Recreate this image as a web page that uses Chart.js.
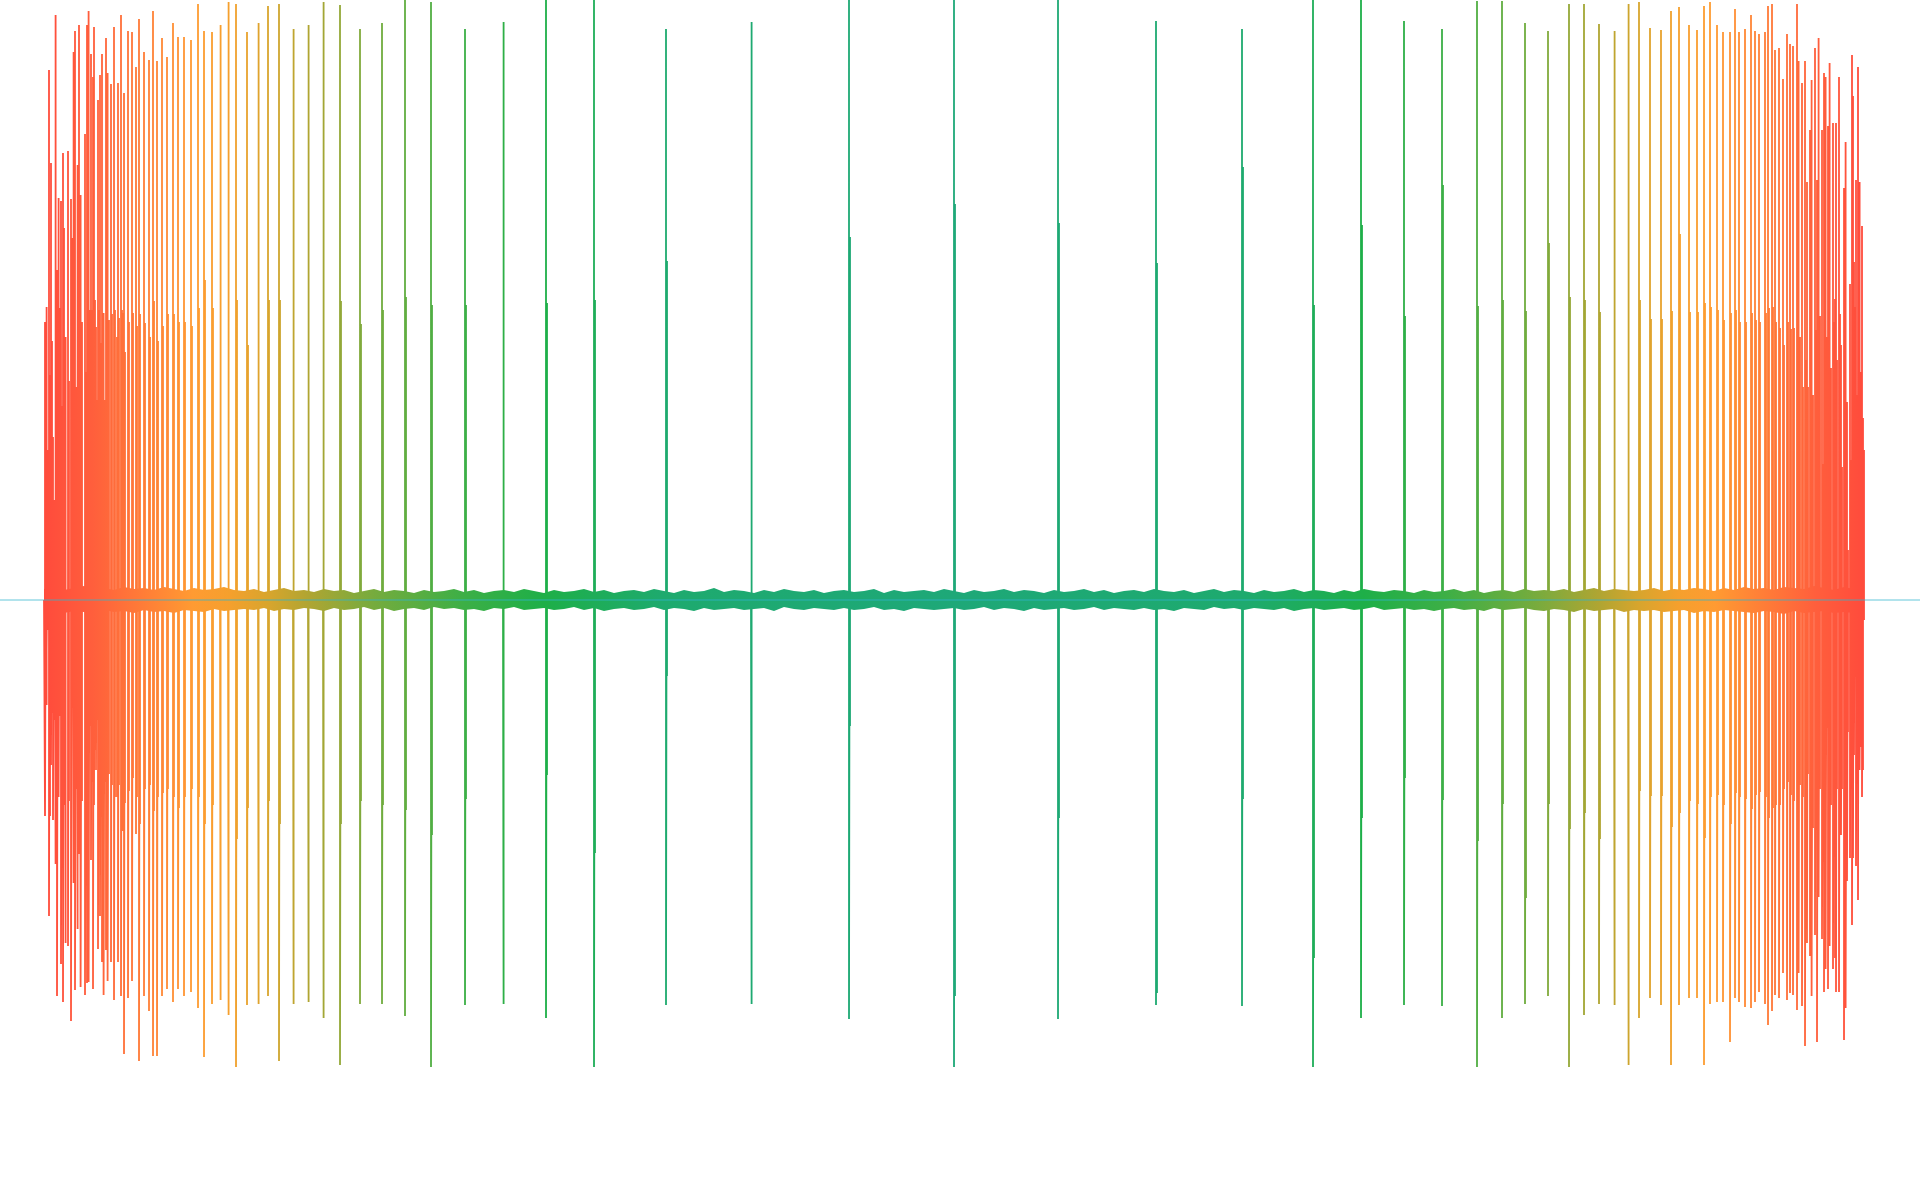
<!DOCTYPE html>
<html><head><meta charset="utf-8">
<script src="https://cdn.jsdelivr.net/npm/chart.js@4/dist/chart.umd.min.js"></script>
<style>html,body{margin:0;padding:0;background:#fff;overflow:hidden}#wrap{width:1920px;height:1200px;position:relative}</style>
</head><body><div id="wrap"><canvas id="c"></canvas></div>
<script>
// time of each pulse (s)
const spikeTimes = [
0.01,0.03,0.05,0.07,0.09,0.11,0.13,0.15,0.17,0.19,0.21,0.24,0.27,0.29,0.31,0.33,0.35,0.37,0.41,0.43,
0.45,0.47,0.49,0.50,0.52,0.54,0.56,0.58,0.60,0.62,0.64,0.67,0.70,0.73,0.74,0.77,0.79,0.80,0.84,0.88,
0.92,0.95,1.00,1.05,1.09,1.13,1.18,1.23,1.29,1.34,1.40,1.47,1.54,1.60,1.68,1.76,1.84,1.92,2.03,2.14,
2.24,2.35,2.49,2.64,2.79,2.96,3.16,3.38,
3.61,3.87,4.21,4.59,5.02,5.50,6.22,7.07,8.05,9.10,10.14,11.12,11.98,12.69,13.17,13.60,13.98,14.33,14.58,14.81,
15.04,15.25,15.40,15.55,15.70,15.84,15.95,16.06,16.17,16.27,16.35,16.45,16.53,
16.60,16.66,16.73,16.79,16.86,16.91,16.95,17.01,17.07,17.11,17.15,17.21,17.24,17.28,17.31,17.35,17.39,17.43,17.46,17.49,
17.53,17.55,17.58,17.61,17.63,17.66,17.68,17.71,17.73,17.75,17.78,17.80,17.82,17.84,17.86,17.89,17.91,17.92,17.95,17.97,
18.00,18.02,18.03,18.06,18.08,18.09,18.10,18.12,18.14,18.16,18.18,18.19];
// outer positive peak of each pulse
const spikePeaks = [
278,293,530,437,163,585,330,402,399,447,263,449,401,548,569,435,575,405,466,575,
589,546,523,573,273,500,525,546,287,562,527,516,573,263,517,585,287,507,569,568,
533,581,548,540,589,539,562,543,577,563,563,560,596,569,568,575,598,596,568,577,
594,596,571,575,598,595,571,577,
600,598,571,578,600,600,571,578,600,600,600,579,571,600,600,579,571,599,599,577,
569,596,596,576,569,596,598,572,570,589,593,575,570,
594,598,575,568,568,591,568,571,585,569,566,568,594,596,550,552,521,566,556,554,
596,539,517,539,418,470,520,552,420,562,470,527,523,474,537,477,301,477,523,255,
412,458,110,316,545,504,338,420,533,248,374,182];
// outer negative trough of each pulse
const spikeTroughs = [
-216,-51,-316,-165,-220,-264,-396,-197,-364,-402,-343,-346,-421,-283,-390,-329,-254,-387,-395,-383,
-382,-260,-389,-205,-170,-349,-316,-362,-395,-350,-381,-362,-400,-197,-362,-396,-231,-454,-398,-381,
-234,-461,-396,-411,-456,-456,-396,-389,-402,-389,-396,-392,-408,-457,-404,-400,-415,-467,-405,-404,
-396,-461,-404,-402,-418,-465,-404,-404,
-416,-467,-405,-404,-418,-467,-405,-404,-419,-467,-419,-405,-406,-467,-418,-405,-406,-467,-418,-404,
-396,-467,-415,-404,-405,-465,-418,-398,-405,-465,-405,-398,-398,
-465,-404,-402,-402,-442,-398,-402,-407,-408,-402,-392,-404,-425,-411,-395,-398,-373,-400,-393,-395,
-410,-373,-406,-446,-343,-356,-396,-335,-442,-297,-339,-392,-369,-389,-346,-369,-358,-392,-392,-235,
-440,-408,-281,-258,-325,-258,-155,-266,-300,-170,-197,-9];
// secondary (inner) peak of each pulse
const innerPeaks = [
133,150,225,259,100,85,200,292,194,372,180,219,362,175,213,217,280,278,228,290,
290,290,274,300,200,290,257,259,200,286,280,286,290,200,282,290,200,248,278,287,
274,286,277,263,299,259,274,286,286,278,278,274,292,320,292,284,293,300,255,290,
300,300,280,287,301,299,276,290,
303,295,295,360,297,300,339,294,363,396,377,337,433,295,375,284,415,294,300,289,
357,303,300,288,277,392,300,281,281,289,366,288,288,
297,293,290,280,287,290,278,278,287,280,278,287,292,293,278,272,255,278,271,272,
293,263,213,240,213,240,205,270,213,284,136,64,263,240,232,278,263,240,286,133,
385,198,50,140,267,300,293,205,418,228,182,150];
// secondary (inner) trough of each pulse
const innerTroughs = [
-105,-30,-216,-113,-120,-128,-189,-116,-186,-205,-197,-201,-93,-189,-189,-162,-189,-201,-192,-201,
-126,-182,-195,-150,-120,-159,-189,-185,-182,-189,-174,-185,-197,-150,-185,-212,-150,-203,-191,-178,
-197,-224,-189,-185,-211,-197,-193,-189,-197,-208,-197,-189,-197,-224,-205,-197,-201,-239,-208,-205,
-201,-224,-197,-197,-211,-224,-201,-205,
-210,-235,-199,-206,-175,-253,-76,-298,-126,-396,-218,-393,-199,-358,-218,-178,-200,-241,-204,-298,
-204,-229,-213,-239,-199,-249,-191,-196,-196,-227,-213,-201,-204,
-238,-197,-195,-205,-224,-193,-197,-199,-209,-195,-192,-197,-218,-208,-205,-205,-189,-182,-195,-201,
-212,-185,-197,-228,-174,-194,-228,-174,-228,-189,-262,-189,-128,-189,-205,-193,-228,-189,-189,-189,
-251,-172,-132,-136,-147,-100,-74,-166,-116,-147,-170,-20];
// background noise envelope, one sample every noiseStep seconds
const noiseStep = 0.1;
const noiseUpper = [
11,13,10,12,14,11,12,10,13,11, 12,10,13,11,9,12,10,11,13,10,
9,11,8,10,12,9,10,8,11,9, 10,7,9,11,8,10,9,7,10,8,
9,11,8,10,7,9,10,8,11,9, 7,10,8,9,11,8,10,7,9,10,
8,11,9,7,10,8,9,12,8,10, 9,7,10,8,11,9,8,10,7,9,
10,8,9,11,7,10,8,9,10,8, 11,9,7,10,8,9,11,8,10,9,
7,10,8,9,11,8,10,7,9,10, 8,11,9,8,10,7,9,11,8,10,
9,7,10,8,9,11,8,10,9,7, 10,8,11,9,8,10,9,7,10,8,
9,11,8,10,7,9,10,8,11,9, 10,9,11,8,10,12,9,11,10,9,
10,12,9,11,10,12,11,9,12,10, 13,11,12,10,13,12,11,14,12,10,
13,11,12];
const noiseLower = [
-12,-10,-13,-11,-12,-14,-10,-12,-11,-13, -10,-12,-11,-13,-10,-11,-12,-9,-11,-10,
-9,-10,-8,-11,-9,-10,-8,-9,-11,-8, -10,-9,-7,-10,-8,-11,-9,-8,-10,-7,
-9,-8,-10,-9,-11,-8,-9,-7,-10,-9, -8,-10,-9,-7,-10,-8,-11,-9,-8,-10,
-9,-7,-10,-8,-9,-11,-8,-10,-9,-8, -10,-9,-8,-11,-7,-9,-10,-8,-9,-10,
-8,-10,-9,-7,-10,-9,-11,-8,-9,-10, -9,-8,-10,-9,-7,-10,-8,-9,-11,-8,
-10,-9,-8,-10,-9,-7,-10,-8,-9,-10, -8,-10,-9,-11,-8,-9,-10,-7,-9,-8,
-10,-8,-9,-10,-8,-11,-9,-8,-10,-9, -8,-10,-9,-7,-10,-9,-8,-10,-9,-11,
-9,-8,-10,-9,-11,-8,-10,-9,-8,-10, -11,-9,-10,-12,-9,-11,-10,-9,-12,-10,
-11,-10,-12,-11,-10,-13,-11,-12,-10,-11, -12,-13,-11,-12,-14,-11,-13,-12,-11,-13,
-12,-13,-11];
const duration = 18.2;
const colorStops = [[0,'#ff4b3c'],[0.027,'#ff5f3c'],[0.055,'#ff7d37'],[0.082,'#ff9b32'],[0.102,'#f5a02d'],
 [0.124,'#d7a52d'],[0.146,'#afa532'],[0.173,'#82aa3c'],[0.187,'#6eac3e'],[0.231,'#3caf46'],
 [0.275,'#1eaf48'],[0.34,'#1eaa6e'],[0.5,'#1ea878']];

function buildWave(){
  const pts=[{x:0,y:0}];
  for(let i=0;i<spikeTimes.length;i++){
    const t=spikeTimes[i];
    pts.push({x:t,y:0},{x:t,y:spikePeaks[i]},{x:t,y:spikeTroughs[i]},
             {x:t+0.01,y:innerPeaks[i]},{x:t+0.01,y:innerTroughs[i]},{x:t+0.01,y:0});
  }
  pts.push({x:duration,y:0});
  return pts;
}
const upperPts = noiseUpper.map((v,i)=>({x:i*noiseStep,y:v}));
const lowerPts = noiseLower.map((v,i)=>({x:i*noiseStep,y:v}));

let gCache=null,gKey='';
function waveGradient(ctx){
  const chart=ctx.chart;
  if(!chart.chartArea||!chart.scales.x) return '#1ea878';
  const xs=chart.scales.x;
  const x0=xs.getPixelForValue(0), x1=xs.getPixelForValue(duration);
  const key=x0+'_'+x1;
  if(gCache&&gKey===key) return gCache;
  const g=chart.ctx.createLinearGradient(x0,0,x1,0);
  colorStops.forEach(s=>g.addColorStop(s[0],s[1]));
  colorStops.slice().reverse().forEach(s=>{ if(s[0]<0.5) g.addColorStop(1-s[0],s[1]); });
  gCache=g; gKey=key; return g;
}

new Chart(document.getElementById('c'),{
  type:'line',
  data:{datasets:[
    {data:[{x:-0.44,y:0},{x:18.76,y:0}],borderColor:'rgba(50,180,205,0.75)',borderWidth:1,order:0,fill:false},
    {data:buildWave(),borderColor:waveGradient,borderWidth:1.8,order:1,fill:false},
    {data:upperPts,borderColor:waveGradient,backgroundColor:waveGradient,borderWidth:0,order:2,fill:'+1'},
    {data:lowerPts,borderColor:waveGradient,borderWidth:0,order:3,fill:false}
  ]},
  options:{
    responsive:true,maintainAspectRatio:false,animation:false,events:[],
    layout:{padding:0},
    plugins:{legend:{display:false},tooltip:{enabled:false}},
    elements:{point:{radius:0},line:{tension:0}},
    scales:{
      x:{type:'linear',min:-0.44,max:18.76,display:false},
      y:{type:'linear',min:-600,max:600,display:false}
    }
  }
});
</script></body></html>
